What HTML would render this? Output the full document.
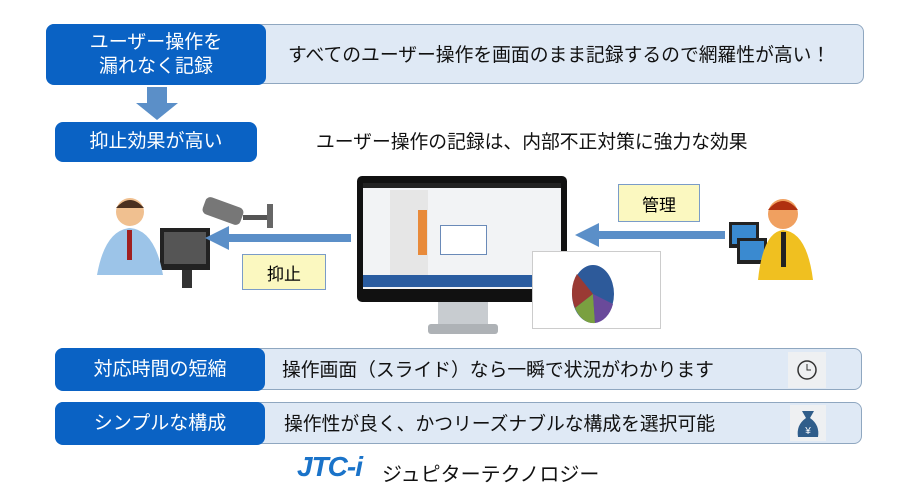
<!DOCTYPE html>
<html><head><meta charset="utf-8"><style>
body{margin:0;width:900px;height:503px;background:#fff;position:relative;overflow:hidden;font-family:"Liberation Sans","Noto Sans CJK JP",sans-serif}
.a{position:absolute}
.row{position:absolute;background:#dfe9f5;border:1.5px solid #8fa7c0;border-radius:8px}
.bl{position:absolute;background:#0a62c4;color:#fff;border-radius:8px;display:flex;align-items:center;justify-content:center;text-align:center;font-size:19px;line-height:24px}
.t{position:absolute;font-size:18.8px;color:#111;white-space:nowrap}
.lbl{position:absolute;background:#fbf8c0;border:1px solid #7a9cc8;font-size:17px;display:flex;align-items:center;justify-content:center}
</style></head><body>
<div class="row" style="left:46px;top:24px;width:816px;height:58px"></div>
<div class="bl" style="left:46px;top:24px;width:220px;height:61px">ユーザー操作を<br>漏れなく記録</div>
<div class="t" style="left:288px;top:40px">すべてのユーザー操作を画面のまま記録するので網羅性が高い！</div>
<svg class="a" style="left:136px;top:87px" width="42" height="34"><rect x="11" y="0" width="20" height="16" fill="#5b8fc8"/><polygon points="0,16 42,16 21,33" fill="#5b8fc8"/></svg>
<div class="bl" style="left:55px;top:122px;width:202px;height:40px">抑止効果が高い</div>
<div class="t" style="left:316px;top:127px">ユーザー操作の記録は、内部不正対策に強力な効果</div>

<svg class="a" style="left:85px;top:190px" width="195" height="105">
<rect x="75" y="38" width="50" height="42" fill="#222"/><rect x="79" y="42" width="42" height="32" fill="#555"/><rect x="97" y="80" width="10" height="18" fill="#333"/>
<circle cx="45" cy="22" r="14" fill="#f0c090"/><path d="M31 18 Q45 2 59 18 Z" fill="#4a3020"/>
<path d="M12 85 Q20 40 45 38 Q70 40 78 85 Z" fill="#9cc4e8"/><rect x="42" y="40" width="5" height="30" fill="#a02020"/>
<rect x="118" y="12" width="40" height="18" rx="5" fill="#777" transform="rotate(20 138 21)"/><rect x="158" y="25" width="30" height="5" fill="#555"/><rect x="182" y="14" width="6" height="24" fill="#666"/>
</svg>
<svg class="a" style="left:205px;top:226px" width="146" height="24"><line x1="146" y1="12" x2="22" y2="12" stroke="#5b8fc8" stroke-width="8"/><polygon points="0,12 24,0 24,24" fill="#5b8fc8"/></svg>
<div class="lbl" style="left:242px;top:254px;width:82px;height:34px">抑止</div>

<div class="a" style="left:357px;top:176px;width:210px;height:126px;background:#111;border-radius:5px"></div>
<div class="a" style="left:363px;top:183px;width:198px;height:106px;background:#f2f3f5"></div>
<div class="a" style="left:363px;top:183px;width:198px;height:5px;background:#222"></div>
<div class="a" style="left:390px;top:190px;width:38px;height:90px;background:#e6e6e6"></div>
<div class="a" style="left:418px;top:210px;width:9px;height:45px;background:#e88a3a"></div>
<div class="a" style="left:440px;top:225px;width:45px;height:28px;background:#fff;border:1px solid #6a8ab8"></div>
<div class="a" style="left:363px;top:275px;width:198px;height:12px;background:#2a5ca0"></div>
<div class="a" style="left:438px;top:302px;width:50px;height:26px;background:#c8ccd0"></div>
<div class="a" style="left:428px;top:324px;width:70px;height:10px;background:#aeb2b6;border-radius:3px"></div>
<div class="a" style="left:532px;top:251px;width:127px;height:76px;background:#fff;border:1px solid #ccc"></div>
<svg class="a" style="left:565px;top:260px" width="60" height="68"><ellipse cx="28" cy="34" rx="21" ry="29" fill="#2d5a9a"/><path d="M28 34 L12 14 A21 29 0 0 0 10 48 Z" fill="#9a3a34"/><path d="M28 34 L10 48 A21 29 0 0 0 30 63 Z" fill="#7aa040"/><path d="M28 34 L30 63 A21 29 0 0 0 48 44 Z" fill="#6a4a9a"/></svg>

<svg class="a" style="left:575px;top:222px" width="150" height="26"><line x1="150" y1="13" x2="22" y2="13" stroke="#5b8fc8" stroke-width="8"/><polygon points="0,13 24,1 24,25" fill="#5b8fc8"/></svg>
<div class="lbl" style="left:618px;top:184px;width:80px;height:36px">管理</div>
<svg class="a" style="left:725px;top:192px" width="95" height="95">
<rect x="4" y="30" width="30" height="26" fill="#222"/><rect x="7" y="33" width="24" height="19" fill="#3a8ad0"/>
<rect x="12" y="46" width="30" height="26" fill="#222"/><rect x="15" y="49" width="24" height="19" fill="#3a8ad0"/>
<circle cx="58" cy="22" r="15" fill="#f0a060"/><path d="M43 18 Q58 0 73 18 Z" fill="#b03010"/>
<path d="M33 88 Q38 40 58 38 Q82 40 88 88 Z" fill="#f0c020"/><rect x="56" y="40" width="5" height="35" fill="#222"/>
</svg>

<div class="row" style="left:55px;top:348px;width:805px;height:40px"></div>
<div class="bl" style="left:55px;top:348px;width:210px;height:43px">対応時間の短縮</div>
<div class="t" style="left:282px;top:355px">操作画面（スライド）なら一瞬で状況がわかります</div>
<svg class="a" style="left:788px;top:352px" width="38" height="36"><rect width="38" height="36" fill="#eef0f2"/><circle cx="19" cy="18" r="9" fill="none" stroke="#333" stroke-width="1.5"/><path d="M19 12V18H23" stroke="#333" fill="none"/></svg>
<div class="row" style="left:55px;top:402px;width:805px;height:40px"></div>
<div class="bl" style="left:55px;top:402px;width:210px;height:43px">シンプルな構成</div>
<div class="t" style="left:284px;top:409px">操作性が良く、かつリーズナブルな構成を選択可能</div>
<svg class="a" style="left:790px;top:405px" width="36" height="36"><rect width="36" height="36" fill="#eef0f2"/><path d="M12 6L24 6 20 13Q30 20 28 32H8Q6 20 16 13Z" fill="#2f5d8a"/><text x="18" y="29" font-size="10" fill="#fff" text-anchor="middle">¥</text></svg>

<div class="a" style="left:297px;top:451px;font-size:28px;font-style:italic;font-weight:bold;color:#1a73c9;letter-spacing:-1px">JTC-i</div>
<div class="t" style="left:382px;top:458px;font-size:20px">ジュピターテクノロジー</div>
</body></html>
